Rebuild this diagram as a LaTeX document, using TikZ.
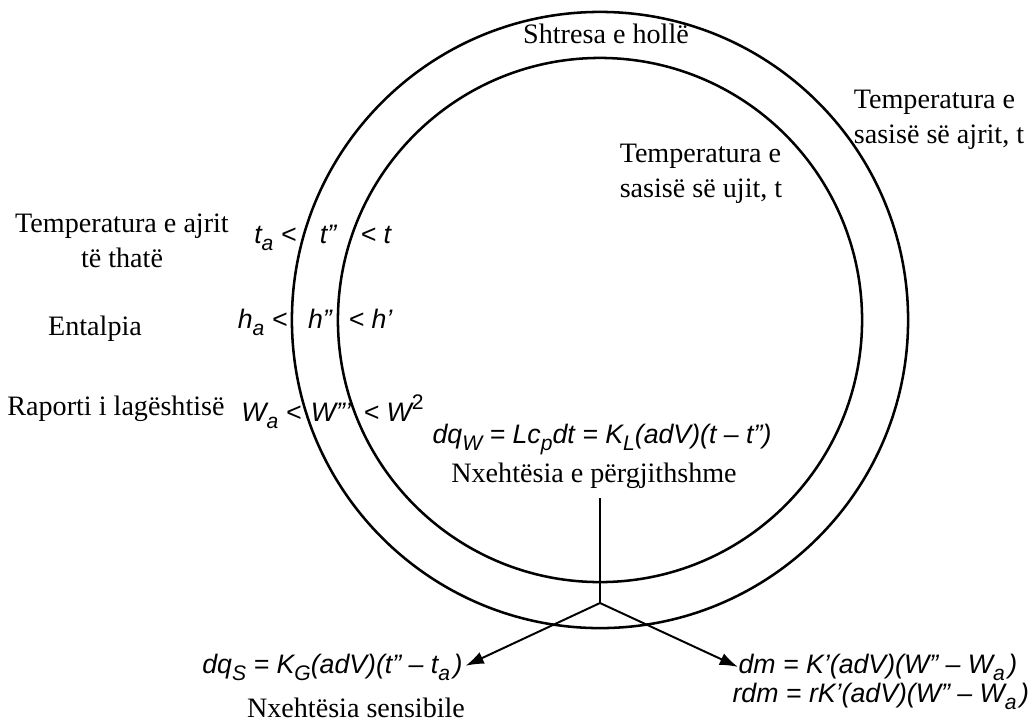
\documentclass[tikz,border=0pt]{standalone}
\usepackage{fontspec}
\setmainfont{Liberation Serif}
\setsansfont{Liberation Sans}
\usetikzlibrary{arrows.meta}
\newcommand{\sbs}[1]{\raisebox{-0.5ex}{\fontsize{7.5}{9}\selectfont#1}}
\newcommand{\sps}[1]{\raisebox{0.8ex}{\fontsize{7.5}{9}\selectfont\upshape#1}}

\begin{document}
\begin{tikzpicture}[x=0.0125cm, y=-0.0125cm,
    txt/.style={inner sep=0pt, font=\fontsize{10}{12.5}\selectfont},
    eq/.style={inner sep=0pt, font=\fontsize{9.5}{11}\selectfont\sffamily\itshape},
    wall/.style={line width=0.9pt},
    flow/.style={line width=0.7pt, -{Latex[length=6.5pt, width=4.5pt]}}]
    \useasboundingbox (0, 0) rectangle (1028, 727);

    \draw[wall] (600, 320) circle (3.85cm);
    \draw[wall] (600, 320) circle (3.275cm);

    \node[txt, anchor=base] at (606, 43) (film) {Shtresa e hollë};
    \node[txt, align=left] at (939, 120) (airtemp) {Temperatura e\\sasisë së ajrit, t};
    \node[txt, align=left] at (701, 174) (watertemp) {Temperatura e\\sasisë së ujit, t};
    \node[txt, align=center] at (122, 241) (drybulb) {Temperatura e ajrit\\të thatë};
    \node[txt, anchor=base] at (95, 335) (enthalpy) {Entalpia};
    \node[txt, anchor=base] at (116, 415) (humratio) {Raporti i lagështisë};

    \node[eq, anchor=base east] at (297, 243) (ta) {t\sbs{a} <};
    \node[eq, anchor=base] at (328, 243) (tf) {t”};
    \node[eq, anchor=base west] at (360, 243) (tw) {< t};
    \node[eq, anchor=base east] at (288, 328) (ha) {h\sbs{a} <};
    \node[eq, anchor=base] at (320, 328) (hf) {h”};
    \node[eq, anchor=base west] at (348, 328) (hw) {< h’};
    \node[eq, anchor=base east] at (302, 421) (wa) {W\sbs{a} <};
    \node[eq, anchor=base] at (331, 421) (wf) {W”’};
    \node[eq, anchor=base west] at (363, 421) (ww) {< W\sps{2}};

    \node[eq, anchor=base] at (602, 443) (dqw) {dq\sbs{W} = Lc\sbs{p}dt = K\sbs{L}(adV)(t – t”)};
    \node[txt, anchor=base] at (594, 482) (total) {Nxehtësia e përgjithshme};
    \coordinate (fork) at (600, 603);

    \node[eq, anchor=base east] at (463, 673) (dqs) {dq\sbs{S} = K\sbs{G}(adV)(t” – t\sbs{a}\kern1.2pt)};
    \node[txt, anchor=base] at (356, 717) (sensible) {Nxehtësia sensibile};
    \node[eq, anchor=base west] at (738, 673) (dm) {dm = K’(adV)(W” – W\sbs{a}\kern1.2pt)};
    \node[eq, anchor=base west] at (732, 702) (rdm) {rdm = rK’(adV)(W” – W\sbs{a}\kern1.2pt)};

    \draw[line width=0.7pt, shorten <=3.5pt] (total.south -| fork) -- (fork);
    \draw[flow, shorten >=1pt] (fork) -- (dqs.east);
    \draw[flow] (fork) -- (dm.west);
\end{tikzpicture}
\end{document}
